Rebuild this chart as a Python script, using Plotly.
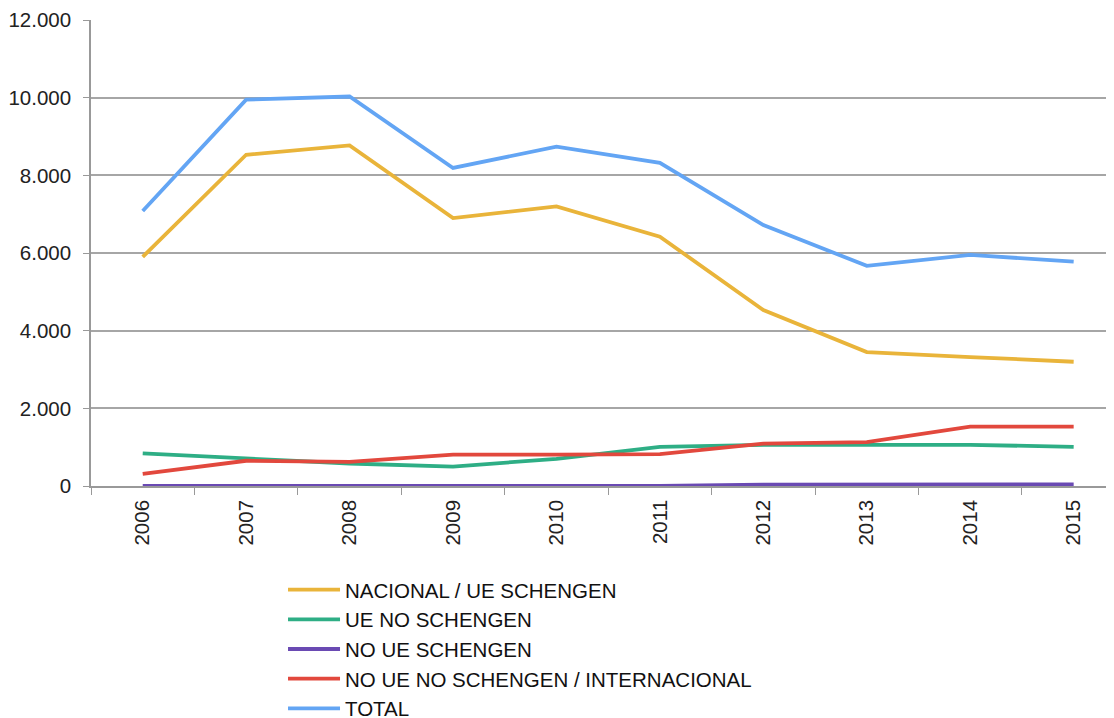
import plotly.graph_objects as go

years = ["2006", "2007", "2008", "2009", "2010", "2011", "2012", "2013", "2014", "2015"]
nacional = [5900, 8530, 8770, 6900, 7200, 6420, 4530, 3450, 3320, 3200]
ue_no_schengen = [840, 720, 580, 500, 700, 1010, 1060, 1060, 1060, 1010]
no_ue_schengen = [0, 0, 0, 0, 0, 0, 35, 40, 40, 40]
no_ue_no_schengen = [310, 650, 620, 810, 810, 820, 1090, 1130, 1530, 1530]
total = [7080, 9950, 10030, 8190, 8740, 8320, 6720, 5670, 5950, 5780]

series = [
    ("NACIONAL / UE SCHENGEN", nacional, "#E9B43A"),
    ("UE NO SCHENGEN", ue_no_schengen, "#2EAE85"),
    ("NO UE SCHENGEN", no_ue_schengen, "#6A4AB3"),
    ("NO UE NO SCHENGEN / INTERNACIONAL", no_ue_no_schengen, "#E2483D"),
    ("TOTAL", total, "#63A5F4"),
]

fig = go.Figure()
for name, vals, color in series:
    fig.add_trace(go.Scatter(x=years, y=vals, name=name, mode="lines",
                             line=dict(color=color, width=3.8)))

fig.update_layout(
    width=1106, height=710,
    margin=dict(l=83, r=0, t=12, b=232, autoexpand=False),
    paper_bgcolor="white", plot_bgcolor="white",
    separators=",.",
    font=dict(family="Liberation Sans, Arial, sans-serif", size=20.5, color="#222"),
    showlegend=True,
    legend=dict(orientation="v", x=0.1877, xanchor="left", y=-0.180, yanchor="top",
                font=dict(size=20.5, color="#111"), tracegroupgap=0,
                itemwidth=52, bgcolor="rgba(0,0,0,0)"),
)
fig.update_xaxes(type="category", range=[-0.5, 9.39], tickangle=-90,
                 showline=True, linecolor="#999", linewidth=1.5,
                 ticks="outside", tickson="boundaries", ticklen=7, tickcolor="#999",
                 ticklabelstandoff=4,
                 showgrid=False, tickfont=dict(size=20.5), automargin=False)
fig.update_yaxes(range=[0, 12000], dtick=2000, tickformat=",d",
                 showline=True, linecolor="#999", linewidth=1.5,
                 ticks="outside", ticklen=6, tickcolor="#999",
                 ticklabelstandoff=8,
                 gridcolor="#A6A6A6", gridwidth=1.5, zeroline=False,
                 tickfont=dict(size=20.5), automargin=False)

fig.write_html("out.html")
